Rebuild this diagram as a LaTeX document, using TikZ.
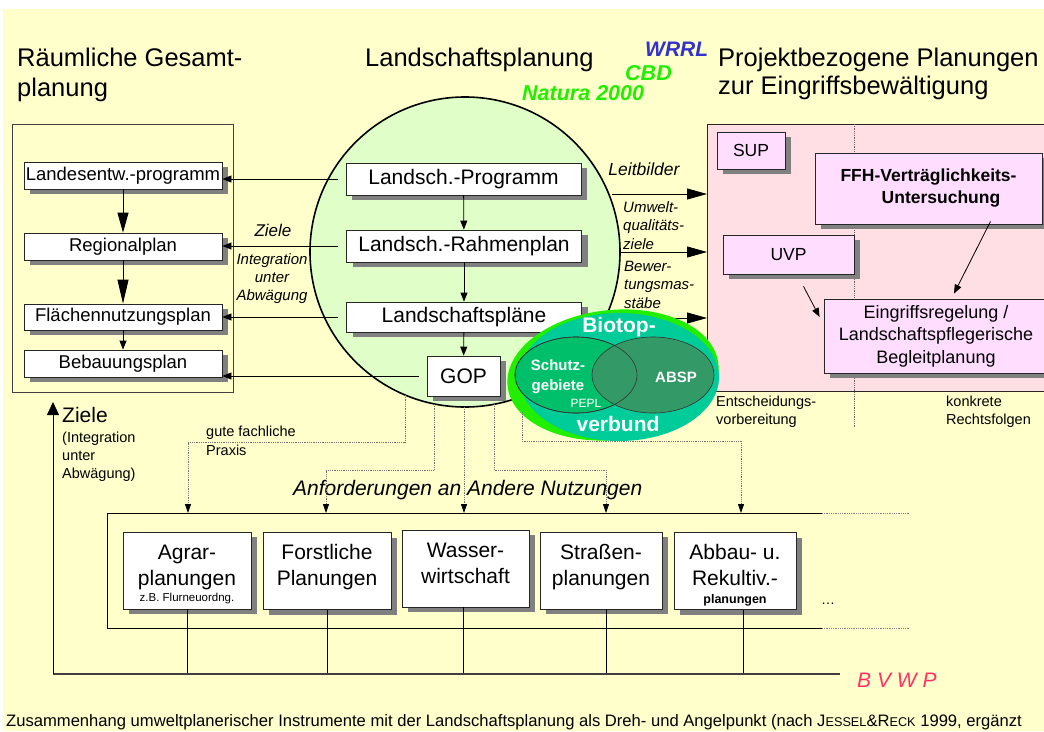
\documentclass[tikz,border=0pt]{standalone}
\usepackage{fontspec}
\setmainfont{Liberation Sans}
\usetikzlibrary{arrows.meta,shapes.geometric,shadows}

\definecolor{hgelb}{HTML}{FFFFCC}
\definecolor{kreisgruen}{HTML}{E0FFC8}
\definecolor{rosa}{HTML}{FFDEE4}
\definecolor{lila}{HTML}{FFDDFF}
\definecolor{schatten}{HTML}{808080}
\definecolor{limette}{HTML}{22EE00}
\definecolor{tuerkis}{HTML}{00CC99}
\definecolor{schutzgruen}{HTML}{00BF6A}
\definecolor{absgruen}{HTML}{339966}
\definecolor{wrrlblau}{HTML}{3333CC}
\definecolor{bvwprot}{HTML}{FF3366}

\newcommand{\uzeilen}[1]{\parbox[t]{118pt}{\centering #1}}

\tikzset{
  kasten/.style={draw=black!85, line width=0.8pt, fill=white, inner sep=0pt, align=center,
    general shadow={fill=schatten, shadow xshift=6pt, shadow yshift=-5pt}},
  lknoten/.style={kasten, minimum width=198pt, minimum height=27pt, font=\fontsize{18.5}{20}\selectfont},
  mknoten/.style={kasten, minimum width=235pt, minimum height=32pt, font=\fontsize{21}{24}\selectfont},
  pknoten/.style={kasten, fill=lila},
  uknoten/.style={kasten, minimum height=77pt, text height=18pt, text depth=41pt, inner ysep=9pt,
    font=\fontsize{21}{26}\selectfont},
  txt/.style={inner sep=0pt},
  gpfeil/.style={line width=0.8pt, -{Triangle[length=20pt,width=11pt]}},
  kpfeil/.style={line width=0.8pt, -{Triangle[length=9pt,width=7pt]}},
  zpfeil/.style={line width=0.8pt, -{Triangle[length=13pt,width=12pt]}},
  punktpfeil/.style={densely dotted, draw=black!55, line width=0.8pt, -{Triangle[length=9pt,width=6pt,color=black]}}
}

\begin{document}
\begin{tikzpicture}[x=1pt,y=-1pt]
    \useasboundingbox (0,0) rectangle (1044,731);
    % Hintergrund
    \fill[white] (0,0) rectangle (1044,731);
    \fill[hgelb] (3,9) rectangle (1044,731);

    % Ueberschriften
    \node[txt, anchor=base west, align=left, font=\fontsize{25.5}{30}\selectfont] (titel1) at (17,96) {Räumliche Gesamt-\\planung};
    \node[txt, anchor=base west, font=\fontsize{25.5}{30}\selectfont] (titel2) at (365,66) {Landschaftsplanung};
    \node[txt, anchor=base west, align=left, font=\fontsize{25.5}{28}\selectfont] (titel3) at (718,94) {Projektbezogene Planungen\\zur Eingriffsbewältigung};
    \node[txt, anchor=base west, text=wrrlblau, font=\bfseries\itshape\fontsize{21}{24}\selectfont] (wrrl) at (645,56) {WRRL};
    \node[txt, anchor=base west, text=limette, font=\bfseries\itshape\fontsize{21.5}{24}\selectfont] (cbd) at (625,80) {CBD};
    \node[txt, anchor=base west, text=limette, font=\bfseries\itshape\fontsize{21.5}{24}\selectfont] (natura) at (522,100) {Natura 2000};

    % Raeumliche Gesamtplanung
    \node[draw=black!75, line width=0.8pt, minimum width=221pt, minimum height=268pt, anchor=north west] (rg) at (12,124) {};
    \node[lknoten] (landes) at (123,175.5) {Landesentw.-programm};
    \node[lknoten] (regional) at (123,246.5) {Regionalplan};
    \node[lknoten, minimum height=26pt] (flaechen) at (123,317) {Flächennutzungsplan};
    \node[lknoten] (bebau) at (123,363.5) {Bebauungsplan};
    \draw[line width=0.8pt, -{Triangle[length=20pt,width=11pt]}] (landes) -- (regional);
    \draw[line width=0.8pt, -{Triangle[length=24pt,width=11pt]}] (regional) -- (flaechen);
    \draw[kpfeil] (flaechen) -- (bebau);

    % Projektbezogene Planungen
    \node[draw=black!85, line width=0.8pt, fill=rosa, minimum width=360pt, minimum height=267pt, anchor=north west, inner sep=0pt] (proj) at (707,124) {};
    \draw[densely dotted, black!60, line width=0.8pt] (854,124) -- (854,428);

    % Landschaftsplanung
    \node[circle, draw, line width=1.6pt, fill=kreisgruen, minimum size=310pt, inner sep=0pt] (lp) at (465,252) {};
    \node[mknoten] (prog) at (463.5,179) {Landsch.-Programm};
    \node[mknoten] (rahmen) at (464,246) {Landsch.-Rahmenplan};
    \node[mknoten, minimum height=30pt] (plaene) at (464,317) {Landschaftspläne};
    \node[kasten, minimum width=73pt, minimum height=40pt, font=\fontsize{21}{24}\selectfont] (gop) at (463.5,376) {GOP};
    \draw[kpfeil] (prog) -- (rahmen);
    \draw[kpfeil] (rahmen) -- (plaene);
    \draw[kpfeil] (plaene) -- (gop);

    % nach links
    \draw[kpfeil] ([xshift=-8pt]prog.west) -- (prog.west -| landes.east);
    \draw[kpfeil] ([xshift=-8pt]rahmen.west) -- (rahmen.west -| regional.east);
    \draw[kpfeil] ([xshift=-8pt]plaene.west) -- (plaene.west -| flaechen.east);
    \draw[kpfeil] ([xshift=-8pt]gop.west) -- (gop.west -| bebau.east);
    \node[txt, anchor=base, font=\itshape\fontsize{17}{20}\selectfont] (ziele1) at (273,236) {Ziele};
    \node[txt, anchor=base, align=center, font=\itshape\fontsize{15}{18}\selectfont] (integ1) at (272,300) {Integration\\unter\\Abwägung};

    % nach rechts
    \coordinate (k1) at (612,194);
    \coordinate (k2) at (620,252);
    \coordinate (k3) at (605,318);
    \draw[gpfeil] (k1) -- (k1 -| proj.west);
    \draw[gpfeil] (k2) -- (k2 -| proj.west);
    \draw[gpfeil] (k3) -- (k3 -| proj.west);
    \node[txt, anchor=base, font=\itshape\fontsize{17.5}{20}\selectfont] (leit) at (644,175) {Leitbilder};
    \node[txt, anchor=base west, align=left, font=\itshape\fontsize{15}{18.5}\selectfont] (uqz) at (623,249) {Umwelt-\\qualitäts-\\ziele};
    \node[txt, anchor=base west, align=left, font=\itshape\fontsize{15}{18.5}\selectfont] (bwm) at (624,308) {Bewer-\\tungsmas-\\stäbe};

    % Instrumente
    \node[pknoten, minimum width=68pt, minimum height=37pt, font=\fontsize{17.5}{21}\selectfont] (sup) at (751,150.5) {SUP};
    \node[pknoten, minimum width=227pt, minimum height=71pt, font=\bfseries\fontsize{17.5}{22}\selectfont] (ffh) at (928.5,188.5) {FFH-Verträglichkeits-\\\hspace*{25pt}Untersuchung};
    \node[pknoten, minimum width=131pt, minimum height=39pt, font=\fontsize{17.5}{21}\selectfont] (uvp) at (788.5,254.5) {UVP};
    \node[pknoten, minimum width=224pt, minimum height=74pt, font=\fontsize{18}{22.5}\selectfont] (eingriff) at (936,336) {Eingriffsregelung /\\Landschaftspflegerische\\Begleitplanung};
    \draw[kpfeil] ([xshift=62pt,yshift=3pt]ffh.south) -- ([xshift=18pt,yshift=5pt]eingriff.north);
    \draw[kpfeil] ([xshift=15pt,yshift=-12pt]uvp.south) -- ([xshift=-4pt,yshift=19pt]eingriff.west);
    \node[txt, anchor=base west, align=left, font=\fontsize{14.5}{18}\selectfont] (entsch) at (716,424) {Entscheidungs-\\vorbereitung};
    \node[txt, anchor=base west, align=left, font=\fontsize{14.5}{18}\selectfont] (recht) at (946,424) {konkrete\\Rechtsfolgen};

    % Biotopverbund
    \node[ellipse, fill=limette, rotate=6, minimum width=212pt, minimum height=130pt, inner sep=0pt] (bvaussen) at (613,375) {};
    \node[ellipse, fill=tuerkis, minimum width=200pt, minimum height=128pt, inner sep=0pt] (bv) at (619,377) {};
    \node[ellipse, draw=black!80, line width=0.6pt, fill=schutzgruen, minimum width=122pt, minimum height=76pt, inner sep=0pt] (sg) at (576,375) {};
    \node[ellipse, draw=black!80, line width=0.6pt, fill=absgruen, minimum width=122pt, minimum height=76pt, inner sep=0pt] (absp) at (653,375) {};
    \node[ellipse, draw=black!80, line width=0.6pt, minimum width=122pt, minimum height=76pt, inner sep=0pt] (sgrand) at (576,375) {};
    \node[txt, text=white, font=\bfseries\fontsize{21}{24}\selectfont] (biotop) at (619,327) {Biotop-};
    \node[txt, text=white, font=\bfseries\fontsize{21}{24}\selectfont] (verbund) at (618,424) {verbund};
    \node[txt, text=white, align=center, font=\bfseries\fontsize{15}{20}\selectfont] (schutz) at (558,377) {Schutz-\\gebiete};
    \node[txt, text=white, font=\fontsize{12}{14}\selectfont] (pepl) at (586,403) {PEPL};
    \node[txt, text=white, font=\bfseries\fontsize{15}{18}\selectfont] (absptxt) at (676,377) {ABSP};

    % andere Nutzungen
    \coordinate (oben) at (0,513);
    \draw[line width=0.8pt] (822,513) -- (107,513) -- (107,628) -- (822,628);
    \draw[densely dotted, black!50, line width=0.8pt] (822,513) -- (910,513);
    \draw[densely dotted, black!50, line width=0.8pt] (822,628) -- (910,628);
    \node[txt, anchor=base west, font=\itshape\fontsize{21}{24}\selectfont] (anf) at (293,495) {Anforderungen an Andere Nutzungen};
    \node[uknoten, minimum width=128pt] (agrar) at (187,570.5) {\uzeilen{Agrar-\\planungen\\[-10pt]{\fontsize{11.5}{13}\selectfont z.B. Flurneuordng.}}};
    \node[uknoten, minimum width=128pt] (forst) at (327,571) {\uzeilen{Forstliche\\Planungen}};
    \node[uknoten, minimum width=127pt] (wasser) at (465.5,568.5) {\uzeilen{Wasser-\\wirtschaft}};
    \node[uknoten, minimum width=122pt] (strassen) at (601,570.5) {\uzeilen{Straßen-\\planungen}};
    \node[uknoten, minimum width=122pt] (abbau) at (735,571) {\uzeilen{Abbau- u.\\Rekultiv.-\\[-8pt]{\bfseries\fontsize{12.5}{14}\selectfont planungen}}};
    \node[txt, font=\fontsize{14}{16}\selectfont] (punkte) at (828,604) {\dots};

    % gute fachliche Praxis
    \coordinate (d1) at (405,395);
    \coordinate (d2) at (434,404);
    \coordinate (d3) at (464,407);
    \coordinate (d4) at (494,404);
    \coordinate (d5) at (522,412);
    \draw[punktpfeil] (d1) -- ++(0,47) -| ([xshift=1pt]agrar.north |- oben);
    \draw[punktpfeil] (d2) -- ++(0,66) -| ([xshift=-1pt]forst.north |- oben);
    \draw[punktpfeil] (d3) -- (d3 |- oben);
    \draw[punktpfeil] (d4) -- ++(0,66) -| ([xshift=5pt]strassen.north |- oben);
    \draw[punktpfeil] (d5) -- ++(0,29) -| ([xshift=6pt]abbau.north |- oben);
    \node[txt, anchor=base west, align=left, font=\fontsize{14.5}{19}\selectfont] (praxis) at (206,455) {gute fachliche\\Praxis};

    % BVWP und Ziele
    \coordinate (bl) at (53,674);
    \coordinate (br) at (840,674);
    \coordinate (zielspitze) at (53,402);
    \draw[line width=0.8pt] (agrar.south) -- (agrar.south |- bl);
    \draw[line width=0.8pt] (forst.south) -- (forst.south |- bl);
    \draw[line width=0.8pt] ([xshift=-2pt]wasser.south) -- ([xshift=-2pt]wasser.south |- bl);
    \draw[line width=0.8pt] ([xshift=5pt]strassen.south) -- ([xshift=5pt]strassen.south |- bl);
    \draw[line width=0.8pt] ([xshift=8pt]abbau.south) -- ([xshift=8pt]abbau.south |- bl);
    \draw[line width=1.5pt, black!75] (bl) -- (br);
    \draw[zpfeil] (bl) -- (zielspitze);
    \node[txt, anchor=base west, text=bvwprot, font=\itshape\fontsize{21}{24}\selectfont] (bvwp) at (857,687) {B V W P};
    \node[txt, anchor=base west, font=\fontsize{21}{24}\selectfont] (ziele2) at (62,422) {Ziele};
    \node[txt, anchor=base west, align=left, font=\fontsize{14.5}{18}\selectfont] (integ2) at (62,478) {(Integration\\unter\\Abwägung)};

    % Bildunterschrift
    \node[txt, anchor=base west, font=\fontsize{16.6}{20}\selectfont] (unterschrift) at (6,726) {Zusammenhang umweltplanerischer Instrumente mit der Landschaftsplanung als Dreh- und Angelpunkt (nach J{\fontsize{12.7}{15}\selectfont ESSEL}\&R{\fontsize{12.7}{15}\selectfont ECK} 1999, ergänzt};
\end{tikzpicture}
\end{document}
